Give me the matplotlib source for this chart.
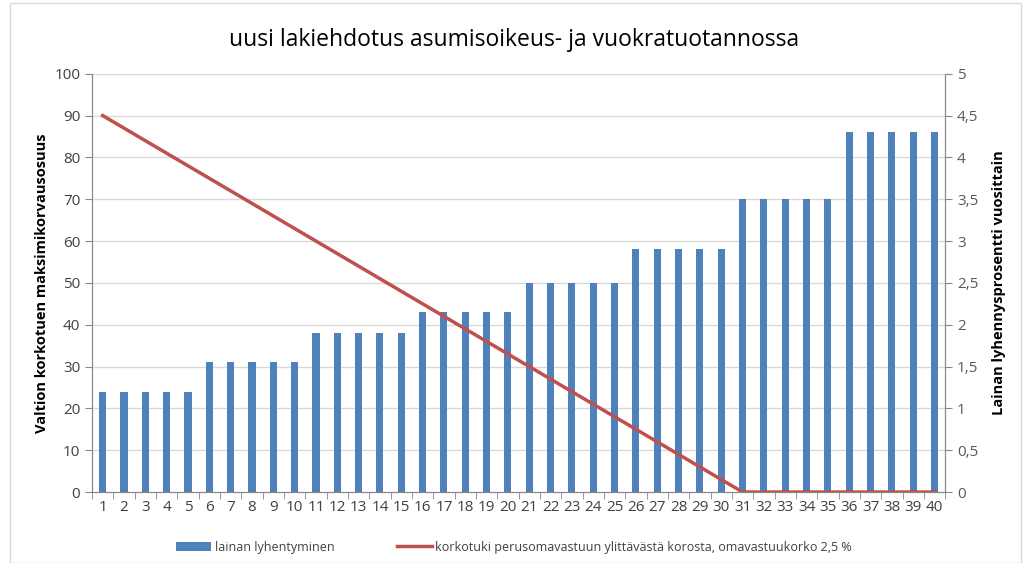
import matplotlib.pyplot as plt
import numpy as np
from matplotlib.ticker import FuncFormatter

# data
years = list(range(1, 41))
lyhennys = [1.2] * 5 + [1.55] * 5 + [1.9] * 5 + [2.15] * 5 + [2.5] * 5 + [2.9] * 5 + [3.5] * 5 + [4.3] * 5
korkotuki = [90, 87, 84, 81, 78, 75, 72, 69, 66, 63, 60, 57, 54, 51, 48, 45, 42, 39, 36, 33,
             30, 27, 24, 21, 18, 15, 12, 9, 6, 3, 0, 0, 0, 0, 0, 0, 0, 0, 0, 0]

bar_color = '#4F81BD'
line_color = '#C0504D'
grid_color = '#D9D9D9'
text_color = '#404040'

plt.rcParams['font.family'] = ['Open Sans', 'DejaVu Sans']

fig = plt.figure(figsize=(10.28, 5.63), dpi=100)
# light frame around the whole chart
fig.patches.append(plt.Rectangle((0.01, 0.0), 0.983, 0.995, transform=fig.transFigure,
                                 fill=False, edgecolor='#D9D9D9', linewidth=1))

ax = fig.add_axes([0.0895, 0.126, 0.83, 0.743])
ax2 = ax.twinx()

# bars on the right axis, line on the left axis
ax2.bar(years, lyhennys, width=0.33, color=bar_color, zorder=2, label='lainan lyhentyminen')
ax.plot(years, korkotuki, color=line_color, linewidth=2.5, zorder=3,
        label='korkotuki perusomavastuun ylittävästä korosta, omavastuukorko 2,5 %')
ax.set_zorder(ax2.get_zorder() + 1)
ax.patch.set_visible(False)

ax.set_xlim(0.5, 40.5)
ax.set_ylim(0, 100)
ax2.set_ylim(0, 5)
ax.set_yticks(np.arange(0, 101, 10))
ax2.set_yticks(np.arange(0, 5.01, 0.5))
ax2.yaxis.set_major_formatter(FuncFormatter(lambda v, p: ('%g' % v).replace('.', ',')))

ax.set_xticks(years)
ax.set_xticks(np.arange(0.5, 41, 1), minor=True)
ax.tick_params(axis='x', which='major', length=0, labelsize=11, colors=text_color, pad=6)
ax.tick_params(axis='x', which='minor', length=5, color='#888888')
ax.tick_params(axis='y', length=5, color='#888888', labelsize=11, labelcolor=text_color)
ax2.tick_params(axis='y', length=5, color='#888888', labelsize=11, labelcolor='#595959')

for y in np.arange(10, 101, 10):
    ax2.axhline(y / 20, color=grid_color, linewidth=1, zorder=0)

for a in (ax, ax2):
    a.spines['top'].set_visible(False)
    a.spines['left'].set_color('#888888')
    a.spines['right'].set_color('#888888')
    a.spines['bottom'].set_color('#888888')

ax.set_ylabel('Valtion korkotuen maksimikorvausosuus', fontsize=10.5, fontweight='bold', labelpad=4)
ax2.set_ylabel('Lainan lyhennysprosentti vuosittain', fontsize=10.5, fontweight='bold', labelpad=10)

fig.suptitle('uusi lakiehdotus asumisoikeus- ja vuokratuotannossa', fontsize=16.5, y=0.95, color='black')

h1, l1 = ax2.get_legend_handles_labels()
h2, l2 = ax.get_legend_handles_labels()
fig.legend(h1 + h2, l1 + l2, loc='center', bbox_to_anchor=(0.5, 0.028), ncol=2, frameon=False,
           fontsize=9, handlelength=2.8, handletextpad=0.3, columnspacing=5, labelcolor='#404040')

plt.savefig('out.png', dpi=100)
